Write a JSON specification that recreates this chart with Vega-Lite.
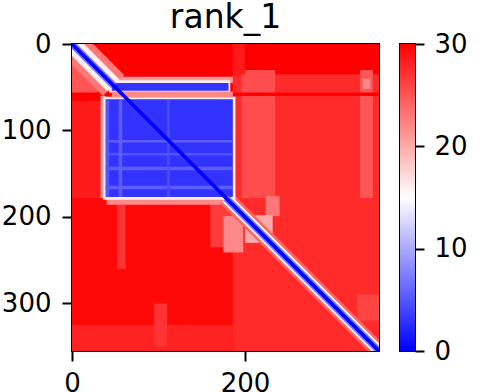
{
  "$schema": "https://vega.github.io/schema/vega-lite/v6.json",
  "background": "white",
  "padding": {"left": 0, "top": 1, "right": 0, "bottom": 0},
  "spacing": 19,
  "datasets": {
    "bg": [
      {"x": 0, "x2": 355, "y": 0, "y2": 355, "v": 30},
      {"x": 186, "x2": 355, "y": 35, "y2": 178, "v": 27.5},
      {"x": 196, "x2": 235, "y": 30, "y2": 178, "v": 25.5},
      {"x": 333, "x2": 348, "y": 30, "y2": 178, "v": 25},
      {"x": 336, "x2": 345, "y": 40, "y2": 52, "v": 22},
      {"x": 186, "x2": 355, "y": 56, "y2": 60, "v": 30},
      {"x": 186, "x2": 200, "y": 0, "y2": 35, "v": 28.5},
      {"x": 0, "x2": 30, "y": 10, "y2": 56, "v": 25},
      {"x": 0, "x2": 39, "y": 66, "y2": 178, "v": 28.5},
      {"x": 33, "x2": 39, "y": 60, "y2": 178, "v": 21},
      {"x": 46, "x2": 186, "y": 38, "y2": 45, "v": 21},
      {"x": 0, "x2": 186, "y": 178, "y2": 355, "v": 29.5},
      {"x": 0, "x2": 186, "y": 325, "y2": 355, "v": 28},
      {"x": 52, "x2": 62, "y": 186, "y2": 260, "v": 27},
      {"x": 160, "x2": 186, "y": 182, "y2": 235, "v": 26.5},
      {"x": 95, "x2": 110, "y": 300, "y2": 350, "v": 27},
      {"x": 40, "x2": 186, "y": 176, "y2": 186, "v": 22},
      {"x": 186, "x2": 355, "y": 178, "y2": 355, "v": 27.5},
      {"x": 175, "x2": 198, "y": 199, "y2": 241, "v": 22},
      {"x": 224, "x2": 240, "y": 176, "y2": 199, "v": 23},
      {"x": 200, "x2": 232, "y": 198, "y2": 230, "v": 20},
      {"x": 330, "x2": 355, "y": 290, "y2": 320, "v": 26}
    ],
    "fg": [
      {"x": 36, "x2": 189, "y": 61, "y2": 180, "v": 16},
      {"x": 43, "x2": 183, "y": 42, "y2": 56, "v": 16},
      {"x": 46, "x2": 186, "y": 55, "y2": 62, "v": 22},
      {"x": 46, "x2": 181, "y": 45, "y2": 54, "v": 3},
      {"x": 39, "x2": 186, "y": 64, "y2": 177, "v": 3},
      {"x": 39, "x2": 186, "y": 111, "y2": 114, "v": 5.5},
      {"x": 39, "x2": 186, "y": 126, "y2": 129, "v": 5},
      {"x": 39, "x2": 186, "y": 142, "y2": 146, "v": 5.5},
      {"x": 39, "x2": 186, "y": 164, "y2": 168, "v": 5.5},
      {"x": 54, "x2": 58, "y": 64, "y2": 177, "v": 5.5},
      {"x": 110, "x2": 113, "y": 64, "y2": 177, "v": 4.5},
      {"x": 39, "x2": 43, "y": 64, "y2": 177, "v": 5}
    ],
    "segA": [{"x": 0, "y": 0, "v": 0}, {"x": 48, "y": 48, "v": 0}],
    "segB": [{"x": 178, "y": 178, "v": 0}, {"x": 355, "y": 355, "v": 0}],
    "diag": [{"x": 0, "y": 0, "v": 0}, {"x": 355, "y": 355, "v": 0}]
  },
  "hconcat": [
    {
      "width": 307,
      "height": 307,
      "title": {"text": "rank_1", "fontSize": 33, "font": "DejaVu Sans", "fontWeight": "normal", "color": "black", "offset": -4},
      "encoding": {
        "x": {"field": "x", "type": "quantitative", "scale": {"domain": [0, 355], "nice": false, "zero": false},
              "axis": {"values": [0, 200], "title": null, "tickSize": 10, "labelPadding": 9, "labelFlush": false}},
        "y": {"field": "y", "type": "quantitative", "scale": {"domain": [0, 355], "nice": false, "zero": false, "reverse": true},
              "axis": {"values": [0, 100, 200, 300], "title": null, "tickSize": 10, "labelPadding": 11, "labelFlush": false}}
      },
      "layer": [
        {"data": {"name": "bg"}, "mark": {"type": "rect"},
         "encoding": {"x2": {"field": "x2"}, "y2": {"field": "y2"},
           "color": {"field": "v", "type": "quantitative", "scale": {"domain": [0, 15, 30], "range": ["#0000ff", "#ffffff", "#ff0000"], "interpolate": "rgb"}, "legend": null}}},
        {"data": {"name": "segA"}, "mark": {"type": "line", "strokeWidth": 30, "clip": true, "strokeCap": "butt"},
         "encoding": {"color": {"datum": 23, "type": "quantitative", "legend": null}}},
        {"data": {"name": "segB"}, "mark": {"type": "line", "strokeWidth": 16, "clip": true, "strokeCap": "butt"},
         "encoding": {"color": {"datum": 24, "type": "quantitative", "legend": null}}},
        {"data": {"name": "segA"}, "mark": {"type": "line", "strokeWidth": 17, "clip": true, "strokeCap": "butt"},
         "encoding": {"color": {"datum": 16, "type": "quantitative", "legend": null}}},
        {"data": {"name": "segB"}, "mark": {"type": "line", "strokeWidth": 10.5, "clip": true, "strokeCap": "butt"},
         "encoding": {"color": {"datum": 15, "type": "quantitative", "legend": null}}},
        {"data": {"name": "fg"}, "mark": {"type": "rect"},
         "encoding": {"x2": {"field": "x2"}, "y2": {"field": "y2"},
           "color": {"field": "v", "type": "quantitative", "legend": null}}},
        {"data": {"name": "segA"}, "mark": {"type": "line", "strokeWidth": 7, "clip": true, "strokeCap": "butt"},
         "encoding": {"color": {"datum": 7, "type": "quantitative", "legend": null}}},
        {"data": {"name": "segB"}, "mark": {"type": "line", "strokeWidth": 7, "clip": true, "strokeCap": "butt"},
         "encoding": {"color": {"datum": 7, "type": "quantitative", "legend": null}}},
        {"data": {"name": "diag"}, "mark": {"type": "line", "strokeWidth": 3.5, "clip": true, "strokeCap": "butt"},
         "encoding": {"color": {"datum": 0, "type": "quantitative", "legend": null}}}
      ]
    },
    {
      "width": 15,
      "height": 307,
      "data": {"values": [{"lo": 0, "hi": 30}]},
      "mark": {"type": "rect", "color": {"gradient": "linear", "x1": 0, "y1": 1, "x2": 0, "y2": 0,
        "stops": [{"offset": 0, "color": "#0000ff"}, {"offset": 0.5, "color": "#ffffff"}, {"offset": 1, "color": "#ff0000"}]}},
      "encoding": {
        "y": {"field": "lo", "type": "quantitative", "scale": {"domain": [0, 30], "nice": false, "zero": false},
              "axis": {"orient": "right", "values": [0, 10, 20, 30], "title": null, "tickSize": 9, "labelPadding": 10, "labelFlush": false}},
        "y2": {"field": "hi"}
      }
    }
  ],
  "config": {
    "view": {"stroke": "black", "strokeWidth": 2},
    "axis": {"domain": false, "grid": false, "ticks": true, "tickColor": "black", "tickWidth": 2,
             "labelFont": "DejaVu Sans", "labelFontSize": 26, "labelColor": "black"},
    "font": "DejaVu Sans"
  }
}
